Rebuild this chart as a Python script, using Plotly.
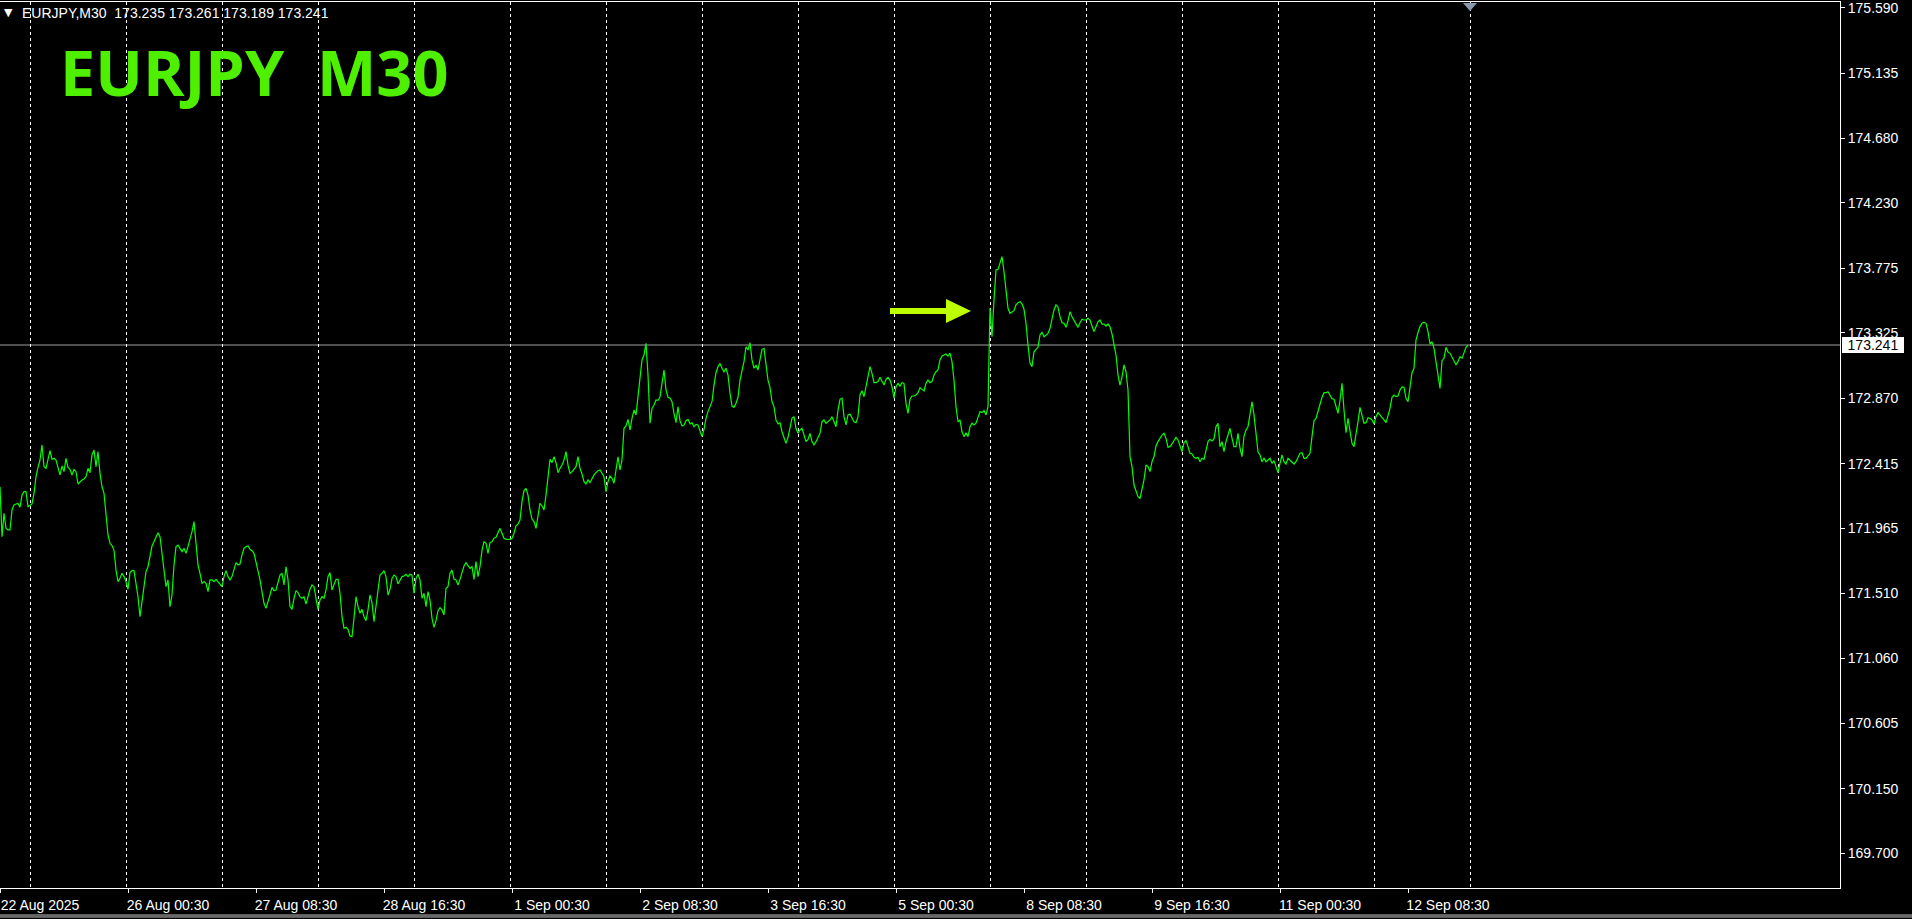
import plotly.graph_objects as go

# ---------------- data ----------------
symbol = "EURJPY"
timeframe = "M30"
header_ohlc = [173.235, 173.261, 173.189, 173.241]
last_price = 173.241

# M30 closes, one per bar, bar 0 = 22 Aug 2025 16:30
close = [
    172.254, 171.906, 172.069, 171.964, 171.953, 171.953, 172.092, 172.127, 172.134, 172.138,
    172.111, 172.196, 172.220, 172.220, 172.115, 172.127, 172.134, 172.208, 172.324, 172.389,
    172.440, 172.545, 172.394, 172.382, 172.440, 172.505, 172.445, 172.452, 172.440, 172.382,
    172.336, 172.398, 172.359, 172.452, 172.389, 172.375, 172.336, 172.375, 172.359, 172.273,
    172.289, 172.301, 172.308, 172.324, 172.382, 172.352, 172.475, 172.510, 172.394, 172.498,
    172.347, 172.254, 172.208, 172.069, 171.918, 171.860, 171.844, 171.813, 171.674, 171.593,
    171.616, 171.651, 171.628, 171.593, 171.540, 171.656, 171.670, 171.670, 171.593, 171.488,
    171.349, 171.442, 171.558, 171.663, 171.697, 171.767, 171.841, 171.871, 171.906, 171.934,
    171.906, 171.779, 171.697, 171.558, 171.605, 171.419, 171.500, 171.709, 171.837, 171.848,
    171.825, 171.802, 171.825, 171.790, 171.837, 171.883, 171.941, 172.011, 171.837, 171.709,
    171.651, 171.581, 171.593, 171.581, 171.523, 171.605, 171.605, 171.593, 171.609, 171.593,
    171.577, 171.558, 171.628, 171.670, 171.628, 171.605, 171.628, 171.686, 171.725, 171.709,
    171.716, 171.779, 171.825, 171.837, 171.841, 171.818, 171.809, 171.790, 171.732, 171.674,
    171.605, 171.523, 171.442, 171.407, 171.447, 171.500, 171.553, 171.530, 171.535, 171.593,
    171.639, 171.651, 171.570, 171.697, 171.605, 171.419, 171.400, 171.477, 171.530, 171.516,
    171.488, 171.477, 171.488, 171.437, 171.488, 171.540, 171.570, 171.558, 171.477, 171.400,
    171.465, 171.488, 171.477, 171.535, 171.628, 171.656, 171.535, 171.577, 171.609, 171.609,
    171.512, 171.349, 171.268, 171.275, 171.261, 171.215, 171.210, 171.338, 171.488, 171.419,
    171.373, 171.400, 171.349, 171.321, 171.396, 171.500, 171.447, 171.314, 171.419, 171.523,
    171.639, 171.651, 171.670, 171.628, 171.500, 171.540, 171.616, 171.639, 171.628, 171.577,
    171.605, 171.628, 171.632, 171.644, 171.628, 171.644, 171.639, 171.512, 171.616, 171.644,
    171.605, 171.477, 171.512, 171.419, 171.523, 171.465, 171.338, 171.275, 171.321, 171.391,
    171.412, 171.396, 171.361, 171.547, 171.558, 171.651, 171.674, 171.611, 171.605, 171.570,
    171.609, 171.663, 171.702, 171.725, 171.709, 171.686, 171.697, 171.609, 171.732, 171.628,
    171.697, 171.813, 171.871, 171.860, 171.790, 171.864, 171.871, 171.895, 171.902, 171.930,
    171.964, 171.930, 171.895, 171.888, 171.888, 171.888, 171.895, 171.930, 171.981, 171.994,
    172.022, 172.150, 172.227, 172.243, 172.196, 172.092, 172.029, 172.011, 171.964, 172.046,
    172.138, 172.120, 172.092, 172.196, 172.324, 172.445, 172.422, 172.463, 172.422, 172.352,
    172.382, 172.405, 172.440, 172.498, 172.405, 172.347, 172.359, 172.375, 172.394, 172.463,
    172.382, 172.343, 172.289, 172.273, 172.301, 172.282, 172.313, 172.336, 172.352, 172.366,
    172.371, 172.343, 172.324, 172.220, 172.289, 172.329, 172.313, 172.278, 172.371, 172.463,
    172.371, 172.440, 172.661, 172.677, 172.723, 172.649, 172.730, 172.788, 172.754, 172.881,
    173.044, 173.137, 173.171, 173.253, 173.032, 172.696, 172.800, 172.823, 172.858, 172.855,
    172.881, 172.974, 173.067, 172.928, 172.877, 172.870, 172.846, 172.765, 172.700, 172.811,
    172.714, 172.677, 172.684, 172.714, 172.723, 172.691, 172.700, 172.672, 172.688, 172.684,
    172.637, 172.603, 172.654, 172.730, 172.777, 172.811, 172.846, 172.962, 173.048, 173.090,
    173.113, 173.079, 173.055, 173.079, 173.032, 172.905, 172.816, 172.807, 172.835, 172.877,
    172.997, 173.062, 173.125, 173.229, 173.206, 173.257, 173.137, 173.079, 173.102, 173.067,
    173.137, 173.211, 173.218, 173.102, 172.997, 172.946, 172.846, 172.811, 172.719, 172.691,
    172.700, 172.637, 172.603, 172.556, 172.598, 172.661, 172.730, 172.742, 172.661, 172.626,
    172.649, 172.661, 172.614, 172.568, 172.584, 172.626, 172.568, 172.545, 172.568, 172.598,
    172.626, 172.707, 172.719, 172.696, 172.707, 172.719, 172.742, 172.700, 172.672, 172.788,
    172.863, 172.870, 172.742, 172.684, 172.754, 172.761, 172.730, 172.707, 172.700, 172.742,
    172.893, 172.923, 172.881, 172.951, 173.044, 173.090, 173.044, 172.979, 172.979, 172.986,
    173.016, 172.993, 172.962, 173.002, 173.016, 172.997, 172.951, 172.870, 172.951, 172.974,
    172.955, 172.979, 172.974, 172.835, 172.765, 172.863, 172.886, 172.886, 172.893, 172.909,
    172.944, 172.932, 172.921, 172.974, 172.997, 172.979, 172.986, 173.032, 173.055, 173.067,
    173.137, 173.164, 173.171, 173.178, 173.164, 173.185, 173.125, 172.997, 172.811, 172.707,
    172.719, 172.637, 172.603, 172.630, 172.603, 172.672, 172.696, 172.684, 172.696, 172.742,
    172.777, 172.770, 172.784, 172.754, 172.811, 173.499, 173.299, 173.554, 173.763, 173.768,
    173.821, 173.856, 173.751, 173.601, 173.497, 173.462, 173.473, 173.480, 173.520, 173.536,
    173.543, 173.527, 173.490, 173.392, 173.241, 173.113, 173.090, 173.194, 173.211, 173.225,
    173.311, 173.329, 173.299, 173.311, 173.322, 173.357, 173.420, 173.485, 173.520, 173.504,
    173.438, 173.396, 173.392, 173.364, 173.410, 173.473, 173.438, 173.410, 173.392, 173.364,
    173.396, 173.420, 173.415, 173.415, 173.427, 173.415, 173.373, 173.334, 173.368, 173.403,
    173.415, 173.387, 173.387, 173.373, 173.387, 173.368, 173.318, 173.229, 173.171, 173.032,
    172.962, 173.016, 173.102, 173.055, 172.928, 172.463, 172.394, 172.266, 172.220, 172.185,
    172.173, 172.243, 172.301, 172.405, 172.394, 172.359, 172.428, 172.463, 172.538, 172.568,
    172.591, 172.614, 172.626, 172.591, 172.529, 172.533, 172.552, 172.575, 172.598, 172.580,
    172.545, 172.498, 172.561, 172.575, 172.533, 172.487, 172.482, 172.459, 172.452, 172.459,
    172.428, 172.452, 172.445, 172.498, 172.568, 172.584, 172.573, 172.587, 172.672, 172.696,
    172.533, 172.568, 172.498, 172.568, 172.607, 172.661, 172.591, 172.533, 172.533, 172.626,
    172.522, 172.463, 172.607, 172.649, 172.672, 172.765, 172.846, 172.754, 172.603, 172.498,
    172.475, 172.428, 172.452, 172.428, 172.440, 172.452, 172.417, 172.436, 172.394, 172.352,
    172.417, 172.475, 172.428, 172.412, 172.452, 172.440, 172.428, 172.412, 172.428, 172.463,
    172.487, 172.491, 172.452, 172.452, 172.468, 172.487, 172.603, 172.714, 172.730, 172.784,
    172.835, 172.877, 172.909, 172.909, 172.916, 172.893, 172.867, 172.863, 172.811, 172.765,
    172.858, 172.974, 172.788, 172.630, 172.730, 172.649, 172.556, 172.533, 172.614, 172.707,
    172.807, 172.747, 172.696, 172.700, 172.735, 172.730, 172.719, 172.691, 172.742, 172.770,
    172.754, 172.742, 172.719, 172.700, 172.747, 172.800, 172.877, 172.893, 172.881, 172.886,
    172.928, 172.949, 172.946, 172.870, 172.846, 172.939, 173.048, 173.079, 173.276, 173.327,
    173.369, 173.392, 173.399, 173.392, 173.334, 173.248, 173.264, 173.218, 173.125, 172.997,
    172.939, 173.132, 173.148, 173.225, 173.192, 173.183, 173.155, 173.125, 173.104, 173.125,
    173.160, 173.148, 173.194, 173.225, 173.241,
]
bars = list(range(len(close)))

x_tick_bars = [0, 64, 128, 192, 256, 320, 384, 448, 512, 576, 640, 704]
x_tick_labels = ["22 Aug 2025", "26 Aug 00:30", "27 Aug 08:30", "28 Aug 16:30",
                 "1 Sep 00:30", "2 Sep 08:30", "3 Sep 16:30", "5 Sep 00:30",
                 "8 Sep 08:30", "9 Sep 16:30", "11 Sep 00:30", "12 Sep 08:30"]
day_start_bars = [15, 63, 111, 159, 207, 255, 303, 351, 399, 447, 495, 543, 591, 639, 687, 735]

y_tick_values = [175.590, 175.135, 174.680, 174.230, 173.775, 173.325, 172.870,
                 172.415, 171.965, 171.510, 171.060, 170.605, 170.150, 169.700]
y_tick_labels = ["%.3f" % v for v in y_tick_values]

# visible window
bar_range = [0, 920]
price_range = [169.4596, 175.6296]

# arrow drawn on the chart (bar / price anchors)
arrow_start_bar, arrow_head_bar, arrow_tip_bar = 445, 473, 485.5
arrow_price = 173.478
arrow_shaft_half = 0.021
arrow_head_half = 0.084
shift_marker_bar = 735

# ---------------- styles ----------------
FONT = "Liberation Sans, Arial, sans-serif"
LINE_GREEN = "#00FF00"
TITLE_GREEN = "#4EF000"
ARROW_COLOR = "#BEFF00"

fig = go.Figure()
fig.add_trace(go.Scatter(
    x=bars, y=close, mode="lines",
    line=dict(color=LINE_GREEN, width=1.2),
    hoverinfo="skip", showlegend=False,
))

fig.update_layout(
    width=1912, height=919,
    margin=dict(l=0, r=72, t=2, b=31),
    paper_bgcolor="black", plot_bgcolor="black",
    showlegend=False,
    font=dict(family=FONT, size=14, color="white"),
)

fig.update_xaxes(
    range=bar_range, tickmode="array", tickvals=x_tick_bars, ticktext=x_tick_labels,
    ticks="outside", ticklen=4, tickcolor="white", tickwidth=1, ticklabelshift=40,
    ticklabeloverflow="allow",
    tickfont=dict(family=FONT, size=14, color="white"),
    showgrid=False, zeroline=False,
    showline=True, linecolor="white", linewidth=1, mirror=True,
    minor=dict(tickmode="array", tickvals=day_start_bars, ticks="",
               showgrid=True, gridcolor="white", gridwidth=1, griddash="3px,3px"),
)
fig.update_yaxes(
    side="right", range=price_range, tickmode="array",
    tickvals=y_tick_values, ticktext=y_tick_labels,
    ticks="outside", ticklen=4, tickcolor="white", tickwidth=1,
    ticklabeloverflow="allow",
    tickfont=dict(family=FONT, size=14, color="white"),
    showgrid=False, zeroline=False,
    showline=True, linecolor="white", linewidth=1,
)

# current price line
fig.add_shape(type="line", xref="paper", x0=0, x1=1, yref="y",
              y0=last_price, y1=last_price,
              line=dict(color="#A0A0A0", width=1), layer="below")

# arrow
fig.add_shape(type="rect", xref="x", yref="y",
              x0=arrow_start_bar, x1=arrow_head_bar,
              y0=arrow_price - arrow_shaft_half, y1=arrow_price + arrow_shaft_half,
              fillcolor=ARROW_COLOR, line=dict(width=0))
fig.add_shape(type="path", xref="x", yref="y",
              path="M %s,%s L %s,%s L %s,%s Z" % (
                  arrow_head_bar, arrow_price + arrow_head_half,
                  arrow_tip_bar, arrow_price,
                  arrow_head_bar, arrow_price - arrow_head_half),
              fillcolor=ARROW_COLOR, line=dict(width=0))

# chart-shift marker (small grey triangle at top)
fig.add_shape(type="path", xref="x", yref="paper",
              path="M %s,%s L %s,%s L %s,%s Z" % (
                  shift_marker_bar - 3.5, 0.9989,
                  shift_marker_bar + 3.5, 0.9989,
                  shift_marker_bar, 0.9898),
              fillcolor="#8A99A8", line=dict(width=0))

# window bottom edge lines
for yp in (-0.0305, -0.0327):
    fig.add_shape(type="line", xref="paper", yref="paper", x0=0, x1=1.0392, y0=yp, y1=yp,
                  line=dict(color="#C8C8C8", width=1))

# header text
fig.add_annotation(xref="paper", yref="paper", x=8 / 1840, y=0.9876,
                   xanchor="center", yanchor="middle", showarrow=False,
                   text="\u25BC", font=dict(family="DejaVu Sans", size=11, color="white"))
fig.add_annotation(xref="paper", yref="paper", x=20 / 1840, y=0.9876,
                   xanchor="left", yanchor="middle", showarrow=False,
                   text="%s,%s\u00a0 %s" % (symbol, timeframe, " ".join("%.3f" % v for v in header_ohlc)),
                   font=dict(family=FONT, size=14, color="white"))

# big title
fig.add_annotation(xref="paper", yref="paper", x=58 / 1840, y=0.9216,
                   xanchor="left", yanchor="middle", showarrow=False,
                   text="%s\u00a0\u00a0%s" % (symbol, timeframe),
                   font=dict(family="Open Sans", size=63, color=TITLE_GREEN, weight="bold"))

# last price label box on the price scale
fig.add_annotation(xref="paper", yref="y", x=1, y=last_price,
                   xanchor="left", yanchor="middle", xshift=2, showarrow=False,
                   text="%.3f" % last_price, bgcolor="white",
                   width=60, height=14, borderpad=1, borderwidth=0, align="center",
                   font=dict(family=FONT, size=14, color="black"))

fig.write_html("out.html", config={"displayModeBar": False},
               post_script="document.body.style.margin='0';document.body.style.overflow='hidden';")
